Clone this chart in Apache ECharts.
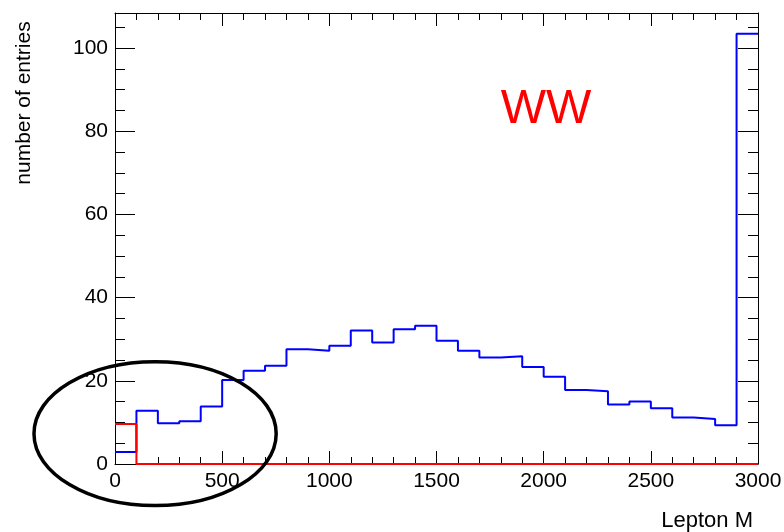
<!DOCTYPE html>
<html><head><meta charset="utf-8">
<script src="https://cdn.jsdelivr.net/npm/echarts@6/dist/echarts.min.js"></script>
<style>html,body{margin:0;padding:0;background:#fff}#c{width:784px;height:532px}</style>
</head><body><div id="c"></div>
<script>
// histogram bins (lower edges), width 100
const binLowEdges = [0,100,200,300,400,500,600,700,800,900,1000,1100,1200,1300,1400,1500,1600,1700,1800,1900,2000,2100,2200,2300,2400,2500,2600,2700,2800,2900];
const xUpperEdge = 3000;
const blueCounts = [2.9,12.8,9.8,10.3,13.8,20.2,22.4,23.6,27.6,27.2,28.4,32.1,29.2,32.4,33.2,29.6,27.2,25.6,25.9,23.3,21.0,17.8,17.5,14.3,15.0,13.4,11.2,10.8,9.3,103.4];
const redCounts  = [9.6,0,0,0,0,0,0,0,0,0,0,0,0,0,0,0,0,0,0,0,0,0,0,0,0,0,0,0,0,0];
const xTickLabels = ['0','500','1000','1500','2000','2500','3000'];
const yTickLabels = ['0','20','40','60','80','100'];
const yMax = 108.4;
// annotation ellipse (data coords)
const ellipseCenter = [187, 7.3];
const ellipseRadii = [565, 17.3];

const FONT = "'Liberation Sans', Arial, Helvetica, sans-serif";
function stepData(counts){
  const d = binLowEdges.map((x,i)=>[x, counts[i]]);
  d.push([xUpperEdge, counts[counts.length-1]]);
  return d;
}
const chart = echarts.init(document.getElementById('c'), null, {renderer:'canvas'});
const lineStyle = {color:'#000', width:1};
function xAx(pos, labels){
  return {type:'value', position:pos, min:0, max:xUpperEdge, interval:500,
    axisLine:{show:true, onZero:false, lineStyle},
    axisTick:{show:true, inside:true, length:13, lineStyle},
    minorTick:{show:true, splitNumber:5, length:7, lineStyle},
    splitLine:{show:false}, minorSplitLine:{show:false},
    axisLabel:{show:labels, margin:7, color:'#000', fontSize:21, fontFamily:FONT,
      formatter:v=>xTickLabels.includes(String(v))?String(v):''}
  };
}
function yAx(pos, interval, len, labels, line){
  return {type:'value', position:pos, offset:0, min:0, max:yMax, interval:interval,
    axisLine:{show:line, onZero:false, lineStyle},
    axisTick:{show:true, inside:true, length:len, lineStyle},
    splitLine:{show:false},
    axisLabel:{show:labels, margin:7, color:'#000', fontSize:21, fontFamily:FONT, showMaxLabel:false,
      formatter:v=>yTickLabels.includes(String(v))?String(v):''}
  };
}
chart.setOption({
  animation:false,
  backgroundColor:'#fff',
  grid:{left:115, right:26, top:13, bottom:68, containLabel:false, outerBoundsMode:'none'},
  xAxis:[xAx('bottom', true), xAx('top', false)],
  yAxis:[yAx('left',20,20,true,true), yAx('left',5,10,false,false),
         yAx('right',20,20,false,true), yAx('right',5,10,false,false)],
  series:[
    {type:'line', step:'end', xAxisIndex:0, yAxisIndex:0, data:stepData(blueCounts), showSymbol:false,
     lineStyle:{color:'#0000ff', width:2}, z:3},
    {type:'line', step:'end', xAxisIndex:0, yAxisIndex:0, data:stepData(redCounts), showSymbol:false,
     lineStyle:{color:'#ff0000', width:2}, z:4}
  ]
});
const c0 = chart.convertToPixel({xAxisIndex:0, yAxisIndex:0}, ellipseCenter);
const c1 = chart.convertToPixel({xAxisIndex:0, yAxisIndex:0}, [ellipseCenter[0]+ellipseRadii[0], ellipseCenter[1]+ellipseRadii[1]]);
chart.setOption({graphic:[
  {type:'ellipse', z:100, shape:{cx:c0[0], cy:c0[1], rx:Math.abs(c1[0]-c0[0]), ry:Math.abs(c0[1]-c1[1])},
   style:{fill:null, stroke:'#000', lineWidth:3.5}},
  {type:'text', z:100, x:546, y:110, style:{text:'WW', fill:'#ff0000', font:'48px '+FONT, textAlign:'center', textVerticalAlign:'middle'}},
  {type:'text', z:100, x:753, y:521, style:{text:'Lepton M', fill:'#000', font:'22px '+FONT, textAlign:'right', textVerticalAlign:'middle'}},
  {type:'text', z:100, x:24, y:103, rotation:Math.PI/2, style:{text:'number of entries', fill:'#000', font:'21px '+FONT, textAlign:'center', textVerticalAlign:'middle'}}
]});
</script>
</body></html>
